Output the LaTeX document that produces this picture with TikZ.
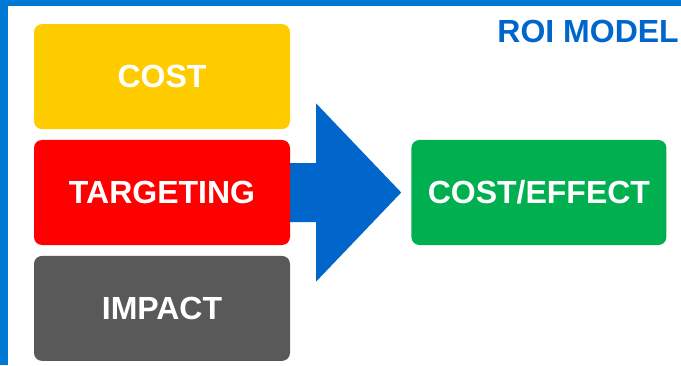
\documentclass[tikz,border=0pt]{standalone}
\usepackage{fontspec}
\setmainfont{Liberation Sans}
\usetikzlibrary{positioning,calc,backgrounds}
\definecolor{RMFrame}{HTML}{0078D4}
\definecolor{RMBlue}{HTML}{0066CC}
\definecolor{RMYellow}{HTML}{FFCC00}
\definecolor{RMRed}{HTML}{FF0000}
\definecolor{RMGrey}{HTML}{595959}
\definecolor{RMGreen}{HTML}{00B050}
\tikzset{block/.style={rounded corners=8pt,text=white,font=\bfseries\fontsize{32}{36}\selectfont,minimum width=256pt,minimum height=105pt,inner sep=0pt}, flow/.style={fill=RMBlue,draw=none}}

\begin{document}
\begin{tikzpicture}[x=1pt,y=1pt,node distance=10.5pt and 121pt]
\useasboundingbox (0,0) rectangle (681,365);
\fill[RMFrame] (0,359) rectangle (681,365);\fill[RMFrame] (0,0) rectangle (8,365);
\node[block,fill=RMRed] (target) at (162,172.5) {TARGETING};\node[block,fill=RMYellow,above=of target] (cost) {COST};\node[block,fill=RMGrey,below=of target] (impact) {IMPACT};
\node[block,fill=RMGreen,minimum width=255pt,right=of target] (effect) {COST/EFFECT};
\node[anchor=base east,text=RMBlue,font=\bfseries\fontsize{32}{36}\selectfont,inner sep=0pt] (title) at (679,322) {ROI MODEL};
% big arrow between the blocks
\begin{scope}[on background layer]
\fill[flow] ($(target.east)+(-4,29.5)$) -- ($(target.east)+(26,29.5)$) -- ($(target.east)+(26,89)$) -- ($(effect.west)+(-10,0)$) -- ($(target.east)+(26,-89)$) -- ($(target.east)+(26,-29.5)$) -- ($(target.east)+(-4,-29.5)$) -- cycle;
\end{scope}
\end{tikzpicture}
\end{document}
